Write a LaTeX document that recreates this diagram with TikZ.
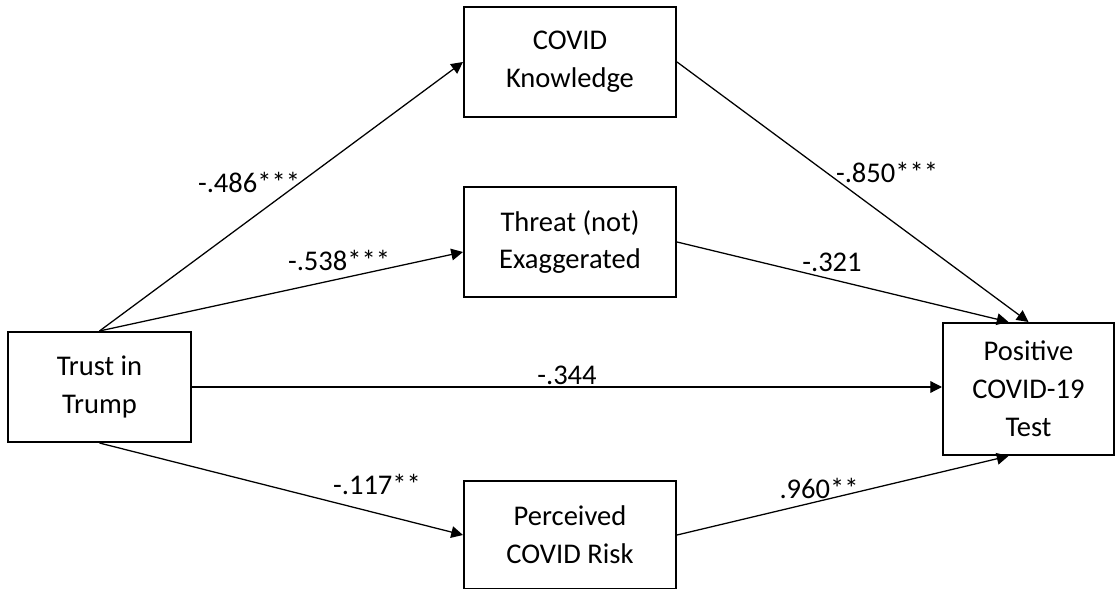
\documentclass[tikz,border=0pt]{standalone}
\usepackage{fontspec}
\setmainfont{Carlito}
\usetikzlibrary{arrows.meta, positioning, calc}

\begin{document}
\begin{tikzpicture}[
    x=0.0138cm, y=-0.0138cm,
    font=\fontsize{11.2}{14.9}\selectfont,
    box/.style={draw, line width=0.8pt, align=center, minimum width=212*0.0138cm, minimum height=110*0.0138cm, inner sep=0pt},
    arrow/.style={-{Triangle[length=4.6pt, width=4.6pt]}, line width=0.5pt},
    coef/.style={inner sep=0pt},
]
\useasboundingbox (0,0) rectangle (1116,589);

% Variables
\node[box, minimum width=183*0.0138cm] (trust) at (99.5,387) {Trust in\\Trump};
\node[box] (know) at (570,62) {COVID\\Knowledge};
\node[box] (threat) at (570,242) {Threat (not)\\Exaggerated};
\node[box, minimum height=108*0.0138cm] (risk) at (570,535) {Perceived\\COVID Risk};
\node[box, minimum width=171*0.0138cm, minimum height=132*0.0138cm] (pos) at (1028.5,389) {Positive\\COVID-19\\Test};

% Paths
\draw[arrow] (trust.north) -- (know.west);
\draw[arrow] (trust.north) -- ($(threat.west)+(0,10)$);
\draw[arrow] (trust.east) -- (trust.east -| pos.west);
\draw[arrow] (trust.south) -- (risk.west);
\draw[arrow] (know.east) -- (pos.north);
\draw[arrow] (threat.east) -- ($(pos.north)+(-20,0)$);
\draw[arrow] (risk.east) -- ($(pos.south)+(-20,0)$);

% Coefficients
\node[coef] (c1) at (249,182) {-.486***};
\node[coef] (c2) at (339,260) {-.538***};
\node[coef] (c3) at (567,375) {-.344};
\node[coef] (c4) at (377,484) {-.117**};
\node[coef] (c5) at (887,172) {-.850***};
\node[coef] (c6) at (832,262) {-.321};
\node[coef] (c7) at (819,488) {.960**};
\end{tikzpicture}
\end{document}
